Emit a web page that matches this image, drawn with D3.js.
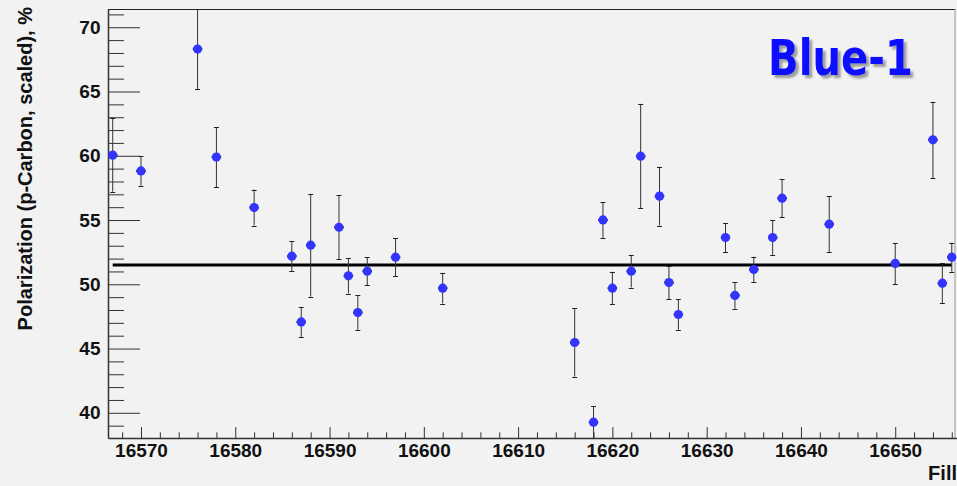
<!DOCTYPE html>
<meta charset="utf-8">
<style>

body {
  margin: 0;
  background: #f2f2f2;
}

.tick text {
  font: bold 19px "Liberation Sans", Arial, sans-serif;
  fill: #111;
}

.title {
  font: bold 20px "Liberation Sans", Arial, sans-serif;
  fill: #111;
}

</style>
<svg width="957" height="486"></svg>
<script src="https://d3js.org/d3.v7.min.js"></script>
<script>

// fills and measured polarization (pC, scaled) with errors
var fills = [16567, 16570, 16576, 16578, 16582, 16586, 16587, 16588, 16591, 16592,
             16593, 16594, 16597, 16602, 16616, 16618, 16619, 16620, 16622, 16623,
             16625, 16626, 16627, 16632, 16633, 16635, 16637, 16638, 16643, 16650,
             16654, 16655, 16656];

var pol = [60.05, 58.82, 68.3, 59.9, 55.97, 52.19, 47.07, 53.04, 54.44, 50.66,
           47.8, 51.02, 52.11, 49.7, 45.47, 39.27, 55.01, 49.7, 51.02, 59.97,
           56.86, 50.14, 47.65, 53.64, 49.13, 51.15, 53.64, 56.7, 54.68, 51.62,
           61.24, 50.09, 52.11];

var err = [2.85, 1.15, 3.14, 2.33, 1.4, 1.17, 1.17, 4.0, 2.47, 1.38,
           1.35, 1.1, 1.47, 1.2, 2.65, 1.24, 1.39, 1.27, 1.27, 4.07,
           2.29, 1.3, 1.18, 1.12, 1.02, 1.0, 1.35, 1.48, 2.18, 1.6,
           2.96, 1.57, 1.13];

var fitValue = 51.5,
    fitRange = [16567, 16656];

var xMajor = [16570, 16580, 16590, 16600, 16610, 16620, 16630, 16640, 16650],
    yMajor = [40, 45, 50, 55, 60, 65, 70];

var svg = d3.select("svg");

var padLeft = 108, padRight = 956.5, padTop = 9, padBottom = 438;

var x = d3.scaleLinear()
    .domain([16566.5, 16656.5])
    .range([padLeft, padRight]);

var y = d3.scaleLinear()
    .domain([38.04, 71.42])
    .range([padBottom, padTop]);

var defs = svg.append("defs");

defs.append("clipPath")
    .attr("id", "plot")
  .append("rect")
    .attr("x", padLeft)
    .attr("y", padTop)
    .attr("width", padRight - padLeft)
    .attr("height", padBottom - padTop);

defs.append("filter")
    .attr("id", "shadow")
    .attr("x", "-10%").attr("y", "-10%")
    .attr("width", "130%").attr("height", "140%")
  .append("feDropShadow")
    .attr("dx", 3)
    .attr("dy", 3)
    .attr("stdDeviation", 1.2)
    .attr("flood-color", "#777")
    .attr("flood-opacity", 0.7);

// frame top / right
svg.append("line")
    .attr("x1", padLeft).attr("x2", padRight - 1)
    .attr("y1", padTop + 0.5).attr("y2", padTop + 0.5)
    .attr("stroke", "#222");
svg.append("line")
    .attr("x1", padRight - 1.5).attr("x2", padRight - 1.5)
    .attr("y1", padTop).attr("y2", padBottom)
    .attr("stroke", "#999");

// x axis
var xMinor = d3.range(16568, 16657, 2).filter(function(d) { return d % 10 != 0; });

svg.append("g")
    .attr("transform", "translate(0," + padBottom + ")")
    .call(d3.axisBottom(x).tickValues(xMinor).tickSize(-5.7).tickFormat(""))
    .call(function(g) { g.select(".domain").remove(); })
    .selectAll("line").attr("stroke", "#333");

var xAxis = svg.append("g")
    .attr("transform", "translate(0," + padBottom + ")")
    .call(d3.axisBottom(x).tickValues(xMajor).tickSize(-11).tickSizeOuter(0).tickPadding(5.5).tickFormat(d3.format("d")));
xAxis.select(".domain").attr("stroke", "#333").attr("stroke-width", 1.5);
xAxis.selectAll("line").attr("stroke", "#333");

// y axis
var yMinor = d3.range(39, 72).filter(function(d) { return d % 5 != 0; });

svg.append("g")
    .attr("transform", "translate(" + padLeft + ",0)")
    .call(d3.axisLeft(y).tickValues(yMinor).tickSize(-16).tickFormat(""))
    .call(function(g) { g.select(".domain").remove(); })
    .selectAll("line").attr("stroke", "#333");

var yAxis = svg.append("g")
    .attr("transform", "translate(" + padLeft + ",0)")
    .call(d3.axisLeft(y).tickValues(yMajor).tickSize(-32).tickSizeOuter(0).tickPadding(7.5));
yAxis.select(".domain").attr("stroke", "#333").attr("stroke-width", 1.5);
yAxis.selectAll("line").attr("stroke", "#333");

// titles
svg.append("text")
    .attr("class", "title")
    .attr("text-anchor", "end")
    .attr("transform", "translate(31.5,7) rotate(-90)")
    .text("Polarization (p-Carbon, scaled), %");

svg.append("text")
    .attr("class", "title")
    .attr("text-anchor", "end")
    .attr("x", 957)
    .attr("y", 480)
    .text("Fill");

// fit line
var plot = svg.append("g").attr("clip-path", "url(#plot)");

plot.append("line")
    .attr("x1", x(fitRange[0]))
    .attr("x2", x(fitRange[1]))
    .attr("y1", y(fitValue))
    .attr("y2", y(fitValue))
    .attr("stroke", "#000")
    .attr("stroke-width", 3);

var data = fills.map(function(f, i) { return {f: f, v: pol[i], e: err[i]}; });

var pts = plot.selectAll(".pt")
    .data(data)
  .enter().append("g")
    .attr("class", "pt");

pts.append("line")
    .attr("x1", function(d) { return x(d.f); })
    .attr("x2", function(d) { return x(d.f); })
    .attr("y1", function(d) { return y(d.v + d.e); })
    .attr("y2", function(d) { return y(d.v - d.e); })
    .attr("stroke", "#333");

pts.selectAll(".cap")
    .data(function(d) { return [{f: d.f, v: d.v + d.e}, {f: d.f, v: d.v - d.e}]; })
  .enter().append("line")
    .attr("x1", function(d) { return x(d.f) - 2.5; })
    .attr("x2", function(d) { return x(d.f) + 2.5; })
    .attr("y1", function(d) { return Math.round(y(d.v)) + 0.5; })
    .attr("y2", function(d) { return Math.round(y(d.v)) + 0.5; })
    .attr("stroke", "#222");

pts.append("line")
    .attr("x1", function(d) { return x(d.f - 0.5); })
    .attr("x2", function(d) { return x(d.f + 0.5); })
    .attr("y1", function(d) { return y(d.v); })
    .attr("y2", function(d) { return y(d.v); })
    .attr("stroke", "#111")
    .attr("stroke-width", 2);

pts.append("circle")
    .attr("cx", function(d) { return x(d.f); })
    .attr("cy", function(d) { return y(d.v); })
    .attr("r", 4.6)
    .attr("fill", "#3434ff");

// label
svg.append("text")
    .attr("x", 768)
    .attr("y", 75)
    .attr("textLength", 145)
    .attr("lengthAdjust", "spacingAndGlyphs")
    .attr("filter", "url(#shadow)")
    .style("font", "bold 50px 'Comic Sans MS', 'DejaVu Sans', sans-serif")
    .style("fill", "#0a0aff")
    .text("Blue-1");

</script>
